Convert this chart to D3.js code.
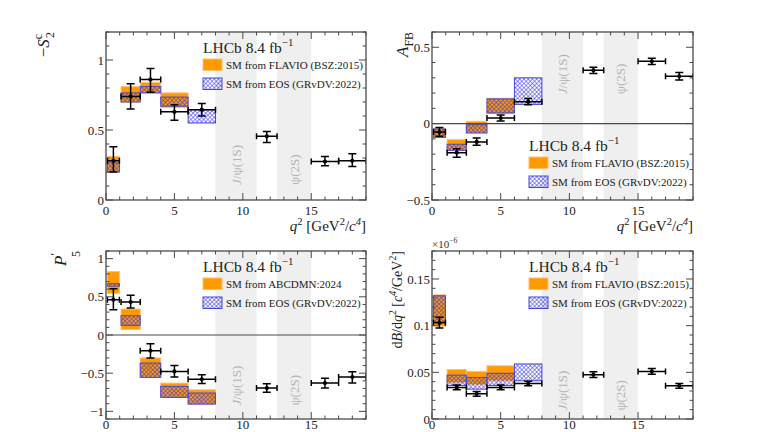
<!DOCTYPE html>
<html>
<head>
<meta charset="utf-8">
<script src="https://cdn.jsdelivr.net/npm/d3@7"></script>
<style>
  body { margin: 0; background: #fff; }
  svg { display: block; font-family: "Liberation Serif", "DejaVu Serif", serif; }
</style>
</head>
<body>
<svg id="chart" width="768" height="432"></svg>
<script>
// q2 bins of the measurement and of the SM predictions
const dataBins = [[0.1, 0.98], [1.1, 2.5], [2.5, 4], [4, 6], [6, 8], [11, 12.5], [15, 17], [17, 19]];
const theoryBins = [[0.1, 0.98], [1.1, 2.5], [2.5, 4], [4, 6], [6, 8]];
const vetoBands = [[8, 11], [12.5, 15]];

// -S2c
const s2Value = [0.28, 0.74, 0.86, 0.63, 0.645, 0.455, 0.275, 0.28];
const s2ErrUp = [0.10, 0.09, 0.08, 0.05, 0.045, 0.035, 0.035, 0.05];
const s2ErrDn = [0.08, 0.09, 0.09, 0.06, 0.045, 0.045, 0.03, 0.04];
const s2Flavio = [[0.20, 0.31], [0.70, 0.81], [0.765, 0.84], [0.66, 0.765]];
const s2Eos = [[0.20, 0.265], [0.70, 0.765], [0.765, 0.81], [0.67, 0.735], [0.55, 0.645]];

// AFB
const afbValue = [-0.055, -0.19, -0.12, 0.037, 0.144, 0.349, 0.408, 0.31];
const afbErrUp = [0.03, 0.026, 0.026, 0.02, 0.02, 0.02, 0.02, 0.025];
const afbErrDn = [0.028, 0.03, 0.022, 0.019, 0.02, 0.02, 0.02, 0.025];
const afbFlavio = [[-0.09, -0.03], [-0.175, -0.105], [-0.061, 0.015], [0.066, 0.166]];
const afbEos = [[-0.09, -0.035], [-0.175, -0.135], [-0.061, -0.007], [0.07, 0.162], [0.126, 0.30]];

// P5'
const p5Value = [0.463, 0.432, -0.206, -0.477, -0.58, -0.695, -0.63, -0.55];
const p5ErrUp = [0.144, 0.088, 0.092, 0.077, 0.06, 0.055, 0.065, 0.07];
const p5ErrDn = [0.133, 0.078, 0.094, 0.073, 0.054, 0.055, 0.065, 0.08];
const p5Abcdmn = [[0.545, 0.83], [0.073, 0.34], [-0.555, -0.30], [-0.817, -0.63], [-0.905, -0.717]];
const p5Eos = [[0.64, 0.672], [0.126, 0.253], [-0.555, -0.367], [-0.817, -0.673], [-0.905, -0.76]];

// dB/dq2 (x 1e-6)
const brValue = [0.103, 0.0338, 0.027, 0.0338, 0.038, 0.0475, 0.051, 0.0355];
const brErrUp = [0.006, 0.0025, 0.0025, 0.0025, 0.0025, 0.003, 0.003, 0.0025];
const brErrDn = [0.0055, 0.0025, 0.0025, 0.0025, 0.0025, 0.003, 0.003, 0.0025];
const brFlavio = [[0.0995, 0.133], [0.039, 0.053], [0.037, 0.051], [0.041, 0.057]];
const brEos = [[0.104, 0.132], [0.036, 0.047], [0.032, 0.0445], [0.036, 0.049], [0.041, 0.059]];

const xTicks = [0, 5, 10, 15];

const svg = d3.select("#chart");
const defs = svg.append("defs");

// EOS cross-hatch
const pat = defs.append("pattern")
    .attr("id", "eosHatch")
    .attr("patternUnits", "userSpaceOnUse")
    .attr("width", 3).attr("height", 3)
    .attr("patternTransform", "rotate(45)");
pat.append("path")
    .attr("d", "M0,0H3M0,0V3")
    .attr("stroke", "#3232f0")
    .attr("stroke-width", 1.1);

const ORANGE = "#ff9a00";
const ORANGE_EDGE = "#ffbf70";
const EOS_EDGE = "#4646dc";
const FRAME = "#4a4a4a";

// text with sub/superscripts
function rich(sel, parts, size) {
    let shift = 0;
    parts.forEach(([t, kind, dx]) => {
        const ts = sel.append("tspan").text(t);
        let target = 0, fs = size;
        if (kind.includes("sup")) { target = -0.42 * size; fs = size * 0.7; }
        if (kind.includes("sub")) { target = 0.3 * size; fs = size * 0.7; }
        if (kind.includes("low")) { target = 0.8 * size; fs = size * 0.7; }
        ts.attr("dy", target - shift).style("font-size", fs + "px");
        if (dx) ts.attr("dx", dx);
        if (kind.startsWith("i")) ts.style("font-style", "italic");
        shift = target;
    });
}

function drawPanel(p) {
    const [x0, y0, x1, y1] = p.box;
    const x = d3.scaleLinear().domain([0, 19]).range([x0, x1]);
    const y = d3.scaleLinear().domain(p.yDomain).range([y1, y0]);
    const g = svg.append("g");

    const clipId = "clip-" + p.id;
    defs.append("clipPath").attr("id", clipId)
        .append("rect").attr("x", x0).attr("y", y0).attr("width", x1 - x0).attr("height", y1 - y0);
    const inner = g.append("g").attr("clip-path", `url(#${clipId})`);

    // charmonium vetoes
    inner.selectAll(".veto")
        .data(vetoBands)
        .enter()
        .append("rect")
        .attr("x", d => x(d[0]))
        .attr("width", d => x(d[1]) - x(d[0]))
        .attr("y", y0)
        .attr("height", y1 - y0)
        .attr("fill", "#efefef");

    const vetoNames = [[["J", "i"], ["/ψ(1S)", "n"]], [["ψ(2S)", "n"]]];
    vetoBands.forEach((b, i) => {
        const cx = (x(b[0]) + x(b[1])) / 2 + 4.5;
        const ty = y1 - p.vetoLabel * (y1 - y0);
        const t = inner.append("text")
            .attr("transform", `translate(${cx},${ty}) rotate(-90)`)
            .attr("fill", "#b4b4b4")
            .style("font-size", "13px");
        rich(t, vetoNames[i], 13);
    });

    // SM predictions
    inner.selectAll(".th1")
        .data(p.th1)
        .enter()
        .append("rect")
        .attr("x", (d, i) => x(theoryBins[i][0]))
        .attr("width", (d, i) => x(theoryBins[i][1]) - x(theoryBins[i][0]))
        .attr("y", d => y(d[1]))
        .attr("height", d => y(d[0]) - y(d[1]))
        .attr("fill", ORANGE)
        .attr("stroke", ORANGE_EDGE)
        .attr("stroke-width", 1);

    inner.selectAll(".th2")
        .data(p.th2)
        .enter()
        .append("rect")
        .attr("x", (d, i) => x(theoryBins[i][0]))
        .attr("width", (d, i) => x(theoryBins[i][1]) - x(theoryBins[i][0]))
        .attr("y", d => y(d[1]))
        .attr("height", d => y(d[0]) - y(d[1]))
        .attr("fill", "url(#eosHatch)")
        .attr("stroke", EOS_EDGE)
        .attr("stroke-width", 1);

    if (p.zeroLine) {
        inner.append("line")
            .attr("x1", x0).attr("x2", x1)
            .attr("y1", y(0)).attr("y2", y(0))
            .attr("stroke", FRAME).attr("stroke-width", 1.2);
    }

    // data points
    const pts = dataBins.map((b, i) => ({
        lo: b[0], hi: b[1], v: p.val[i], up: p.up[i], dn: p.dn[i]
    }));
    const pg = inner.append("g").attr("stroke", "#000").attr("stroke-width", 1.5).attr("fill", "none");
    pts.forEach(d => {
        const cx = x((d.lo + d.hi) / 2), cy = y(d.v);
        const xa = x(d.lo), xb = x(d.hi), ya = y(d.v + d.up), yb = y(d.v - d.dn);
        pg.append("path").attr("d",
            `M${xa},${cy}H${xb}M${xa},${cy - 3}V${cy + 3}M${xb},${cy - 3}V${cy + 3}` +
            `M${cx},${ya}V${yb}M${cx - 4},${ya}H${cx + 4}M${cx - 4},${yb}H${cx + 4}`);
        pg.append("circle").attr("cx", cx).attr("cy", cy).attr("r", 2.1)
            .attr("fill", "#000").attr("stroke", "none");
    });

    // frame + ticks on all sides
    g.append("rect")
        .attr("x", x0).attr("y", y0).attr("width", x1 - x0).attr("height", y1 - y0)
        .attr("fill", "none").attr("stroke", FRAME).attr("stroke-width", 1.3);

    const ticks = g.append("g").attr("stroke", FRAME).attr("stroke-width", 1);
    const xMinor = d3.range(0, 19.001, 1);
    xMinor.forEach(v => {
        const len = xTicks.includes(v) ? 7 : 3.5;
        ticks.append("path").attr("d", `M${x(v)},${y1}V${y1 - len}M${x(v)},${y0}V${y0 + len}`);
    });
    const yMinor = d3.range(Math.round(p.yDomain[0] / p.yMinorStep), Math.round(p.yDomain[1] / p.yMinorStep) + 1)
        .map(k => +(k * p.yMinorStep).toFixed(4))
        .filter(v => v >= p.yDomain[0] && v <= p.yDomain[1]);
    yMinor.forEach(v => {
        const len = p.yMajor.some(m => Math.abs(m - v) < 1e-6) ? 7 : 3.5;
        ticks.append("path").attr("d", `M${x0},${y(v)}H${x0 + len}M${x1},${y(v)}H${x1 - len}`);
    });

    // tick labels
    const fmt = d3.format("~g");
    g.selectAll(".xl")
        .data(xTicks)
        .enter()
        .append("text")
        .attr("x", d => x(d))
        .attr("y", y1 + p.xLabelDy)
        .attr("text-anchor", "middle")
        .style("font-size", "13px")
        .attr("fill", "#222")
        .text(d => fmt(d));
    g.selectAll(".yl")
        .data(p.yMajor)
        .enter()
        .append("text")
        .attr("x", x0 - 2)
        .attr("y", d => y(d) + 4.5)
        .attr("text-anchor", "end")
        .style("font-size", "13px")
        .attr("fill", "#222")
        .text(d => fmt(d));

    // axis titles (the lower row's x titles fall outside the canvas in the reference)
    if (p.xTitle) {
        const xt = g.append("text")
            .attr("x", x1)
            .attr("y", y1 + 31)
            .attr("text-anchor", "end")
            .style("font-size", "15px")
            .attr("fill", "#222");
        rich(xt, [["q", "i"], ["2", "sup"], [" [GeV", "n"], ["2", "sup"], ["/", "n"], ["c", "i"], ["4", "isup"], ["]", "n"]], 15);
    }

    const yt = g.append("text")
        .attr("transform", `translate(${x0 - p.yTitleOff},${y0}) rotate(-90)`)
        .attr("text-anchor", "end")
        .style("font-size", p.yTitleSize + "px")
        .attr("fill", "#222");
    rich(yt, p.yTitle, p.yTitleSize);

    // legend
    const lx = x0 + 97, ly = p.legendY;
    const lh = g.append("text")
        .attr("x", lx).attr("y", ly)
        .style("font-size", "15.5px")
        .attr("fill", "#222");
    rich(lh, [["LHCb 8.4 fb", "n"], ["−1", "sup"]], 15.5);

    const entries = [
        { label: p.th1Label, fill: ORANGE, stroke: ORANGE_EDGE },
        { label: "SM from EOS (GRvDV:2022)", fill: "url(#eosHatch)", stroke: EOS_EDGE }
    ];
    entries.forEach((e, i) => {
        const by = ly + 6 + i * 19;
        g.append("rect")
            .attr("x", lx).attr("y", by)
            .attr("width", 19).attr("height", 11.5)
            .attr("fill", e.fill).attr("stroke", e.stroke).attr("stroke-width", 1);
        g.append("text")
            .attr("x", lx + 23).attr("y", by + 9.5)
            .style("font-size", "11px")
            .attr("fill", "#222")
            .text(e.label);
    });

    if (p.exponent) {
        const et = g.append("text")
            .attr("x", x0).attr("y", y0 - 3)
            .style("font-size", "11px")
            .attr("fill", "#333");
        rich(et, [["×10", "n"], ["−6", "sup"]], 11);
    }
}

drawPanel({
    id: "s2", box: [106, 32, 366, 200],
    yDomain: [0, 1.2], yMajor: [0, 0.5, 1], yMinorStep: 0.1,
    val: s2Value, up: s2ErrUp, dn: s2ErrDn, th1: s2Flavio, th2: s2Eos,
    th1Label: "SM from FLAVIO (BSZ:2015)",
    vetoLabel: 0.09, legendY: 53, xTitle: true, xLabelDy: 15,
    yTitle: [["−", "n"], ["S", "i"], ["c", "sup"], ["2", "sub", -4]], yTitleSize: 17, yTitleOff: 57
});
drawPanel({
    id: "afb", box: [432, 32, 693, 200],
    yDomain: [-0.5, 0.6], yMajor: [-0.5, 0, 0.5], yMinorStep: 0.1,
    val: afbValue, up: afbErrUp, dn: afbErrDn, th1: afbFlavio, th2: afbEos,
    th1Label: "SM from FLAVIO (BSZ:2015)",
    vetoLabel: 0.63, legendY: 151, zeroLine: true, xTitle: true, xLabelDy: 15,
    yTitle: [["A", "i"], ["FB", "sub"]], yTitleSize: 17, yTitleOff: 24
});
drawPanel({
    id: "p5", box: [106, 251, 366, 419],
    yDomain: [-1.1, 1.1], yMajor: [-1, -0.5, 0, 0.5, 1], yMinorStep: 0.1,
    val: p5Value, up: p5ErrUp, dn: p5ErrDn, th1: p5Abcdmn, th2: p5Eos,
    th1Label: "SM from ABCDMN:2024",
    vetoLabel: 0.08, legendY: 272, zeroLine: true, xLabelDy: 10,
    yTitle: [["P", "i"], ["′", "sup"], ["5", "low", -4]], yTitleSize: 17, yTitleOff: 40
});
drawPanel({
    id: "br", box: [432, 251, 693, 419],
    yDomain: [0, 0.18], yMajor: [0, 0.05, 0.1, 0.15], yMinorStep: 0.01,
    val: brValue, up: brErrUp, dn: brErrDn, th1: brFlavio, th2: brEos,
    th1Label: "SM from FLAVIO (BSZ:2015)",
    vetoLabel: 0.05, legendY: 272, exponent: true, xLabelDy: 10,
    yTitle: [["d", "n"], ["B", "i"], ["/d", "n"], ["q", "i"], ["2", "sup"], [" [", "n"], ["c", "i"], ["4", "isup"], ["/GeV", "n"], ["2", "sup"], ["]", "n"]],
    yTitleSize: 14, yTitleOff: 30
});
</script>
</body>
</html>
